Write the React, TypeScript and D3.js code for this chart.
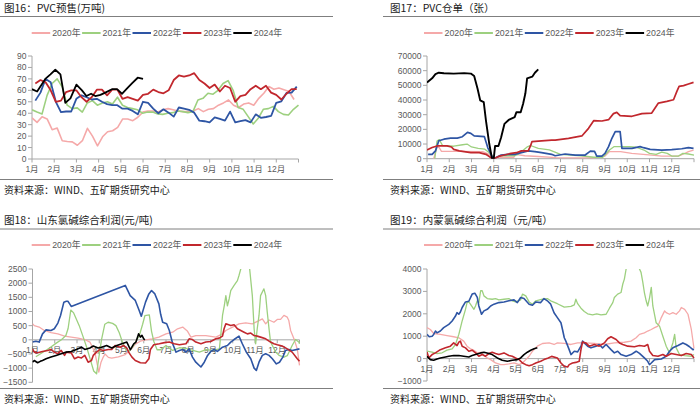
import React from 'react';
import * as d3 from 'd3';

type Pt = [number, number];

const YEARS = ['2020年', '2021年', '2022年', '2023年', '2024年'];
const COLORS = ['#F5A9A9', '#9DD07F', '#2E55A4', '#C1272D', '#000000'];
const MONTHS = ['1月', '2月', '3月', '4月', '5月', '6月', '7月', '8月', '9月', '10月', '11月', '12月'];
const SOURCE = '资料来源：WIND、五矿期货研究中心';

// ---------- 图16 PVC预售 (weekly, 万吨) ----------
const presale2020 = [36, 32, 37, 35, 25.6, 27, 16, 15.3, 15, 12, 16, 26.8, 20, 11.5, 19.4, 23.8, 24.7, 27.6, 35, 35, 33.5, 36.5, 41, 42, 42, 41, 43, 44, 43, 42, 41.4, 41.4, 42, 44, 41.4, 43.4, 44, 47, 49, 51.6, 47, 45, 48, 49, 47, 53, 57.4, 63.3, 61, 62, 60.5, 59, 52];
const presale2020Span: Pt = [0, 11.8];
const presale2021 = [43, 41, 39.4, 55.6, 66, 70, 63, 47, 44, 44.7, 41, 49, 51, 47, 49, 50, 48, 54, 47, 45, 44, 43, 40, 41, 41, 39.4, 39, 40, 40.5, 42, 41.4, 40.5, 41.4, 51.6, 53, 57.4, 56.6, 60, 66, 68.5, 60, 45, 43.4, 37, 30.6, 35.6, 43.4, 44, 46, 41.4, 39, 38.5, 43.4, 47];
const presale2021Span: Pt = [0, 12];
const presale2022 = [51, 58, 70, 67, 50, 41, 41.5, 41.5, 52.6, 55.6, 54, 52, 52.6, 50, 48, 47, 47, 44, 44, 42, 39, 50, 49, 44, 40, 43.4, 40.5, 37, 45, 44, 43, 40.5, 33.5, 33, 32, 36.4, 35, 33.5, 41.4, 32, 33, 34, 32, 39, 36, 36.7, 37.6, 49, 50.4, 57.7, 58, 63.3];
const presale2022Span: Pt = [0.15, 11.92];
const presale2023 = [66, 69, 67, 60, 50, 51, 58.5, 60, 60, 54, 50, 54, 60.6, 60.6, 55.6, 60.6, 60.6, 52.6, 54, 52.6, 51, 56, 57, 60.6, 58.5, 57.4, 60, 69, 73, 72, 73, 75, 69, 66, 62, 65, 59, 64, 62, 50, 55, 56, 61, 64, 61, 64, 58, 56, 52, 57, 61, 61];
const presale2023Span: Pt = [0.15, 11.92];
const presale2024: Pt[] = [[0, 61], [0.23, 59], [0.6, 70], [0.83, 74], [1.05, 78], [1.28, 74], [1.5, 49], [1.73, 53], [2.0, 65], [2.25, 60], [2.45, 55], [2.66, 57], [2.85, 55], [3.08, 56], [3.3, 58], [3.6, 61], [3.83, 61], [4.05, 57], [4.25, 61], [4.5, 66], [4.76, 71], [5.0, 70]];

// ---------- 图17 PVC仓单 (张) ----------
const warrant2020: Pt[] = [[0.3, 0], [0.45, 8000], [0.55, 7500], [0.65, 5000], [1.5, 5000], [2.5, 4800], [2.8, 3000], [3.0, 0], [3.3, 1000], [3.9, 1000], [4.0, 3000], [4.4, 2000], [5.0, 1500], [5.8, 800], [6.5, 500], [7.5, 500], [8.0, 1800], [8.2, 4800], [8.7, 4800], [9.2, 3600], [10.1, 2500], [10.55, 1800], [11.3, 1800], [11.53, 3200], [11.75, 4800], [11.98, 5900]];
const warrant2021: Pt[] = [[0.35, 0], [0.45, 12000], [0.55, 13000], [0.7, 9000], [1.2, 8500], [1.6, 9500], [1.8, 10000], [2.0, 8000], [2.3, 7000], [2.6, 6500], [2.8, 4000], [3.0, 0], [3.3, 2000], [3.9, 2000], [4.1, 3000], [4.5, 8000], [4.65, 9000], [5.0, 7000], [5.5, 6000], [6.0, 3000], [6.9, 2000], [7.5, 1000], [7.9, 1000], [8.2, 5900], [8.4, 8200], [9.1, 8200], [9.4, 7800], [9.75, 5900], [10.0, 3600], [10.3, 3000], [10.55, 4500], [10.8, 3600], [11.0, 1800], [11.3, 1800], [11.5, 3600], [11.75, 3200], [12, 2500]];
const warrant2022: Pt[] = [[0.05, 3000], [0.23, 3000], [0.38, 5300], [0.53, 12200], [0.76, 13300], [1.06, 14000], [1.36, 14000], [1.59, 15000], [1.82, 17900], [1.97, 17300], [2.12, 15600], [2.58, 15000], [2.73, 7600], [2.95, 700], [3.0, 0], [3.33, 2500], [3.64, 3000], [3.94, 3000], [4.24, 4100], [4.55, 5300], [4.85, 4800], [5.15, 4100], [5.6, 3000], [5.76, 2000], [6.21, 3200], [6.66, 2500], [7.11, 2500], [7.34, 5200], [7.53, 5000], [7.63, 1800], [7.86, 1800], [8.0, 3600], [8.16, 8200], [8.31, 13900], [8.46, 18400], [8.68, 18400], [8.76, 7000], [9.21, 7000], [9.58, 8200], [9.73, 7500], [10.03, 6400], [10.55, 5900], [11.0, 6200], [11.45, 6800], [11.75, 7500], [11.98, 7000]];
const warrant2023: Pt[] = [[0, 6000], [0.23, 7600], [0.45, 8700], [0.9, 8700], [1.1, 8000], [1.2, 6400], [1.45, 5300], [1.67, 4800], [1.97, 4100], [2.35, 4100], [2.65, 3000], [2.88, 700], [3.0, 0], [3.26, 1800], [3.48, 2500], [3.71, 3400], [4.02, 4100], [4.24, 5300], [4.55, 5300], [4.65, 8700], [4.72, 11700], [5.15, 12200], [5.6, 12600], [5.76, 12700], [6.36, 13900], [6.96, 15500], [7.26, 20700], [7.49, 25900], [7.86, 25700], [8.16, 26600], [8.38, 30700], [8.53, 31600], [8.68, 29300], [9.21, 28900], [9.66, 30700], [10.1, 31100], [10.25, 34500], [10.4, 37900], [10.78, 39100], [11.08, 40200], [11.23, 45900], [11.33, 49300], [11.53, 49800], [11.75, 50900], [11.98, 52000]];
const warrant2024: Pt[] = [[0, 52000], [0.23, 54800], [0.38, 57700], [0.53, 58600], [0.76, 58200], [1.2, 58000], [1.67, 58300], [1.97, 58000], [2.12, 56300], [2.27, 47800], [2.39, 39800], [2.55, 38600], [2.65, 26000], [2.8, 10000], [2.92, 200], [3.0, 0], [3.06, 8700], [3.21, 8700], [3.33, 14500], [3.48, 23700], [3.67, 26400], [3.94, 28300], [4.02, 31700], [4.21, 31700], [4.32, 37500], [4.42, 44400], [4.5, 54700], [4.73, 55900], [4.85, 58600], [5.0, 60900]];

// ---------- 图18 山东氯碱综合利润 (元/吨) ----------
const sdProfit2020: Pt[] = [[0, 565], [0.08, 500], [0.3, 450], [0.53, 330], [0.83, 250], [1.14, 210], [1.44, 130], [1.74, 95], [2.05, 60], [2.35, 10], [2.58, -80], [2.73, -320], [2.83, -550], [2.92, -900], [2.98, -1140], [3.08, -790], [3.18, -610], [3.26, -500], [3.41, -620], [3.56, -650], [3.86, -600], [4.17, -520], [4.47, -300], [4.62, -150], [4.85, -50], [5.08, 0], [5.38, 35], [5.68, 95], [6.0, 210], [6.3, 270], [6.52, 390], [6.75, 450], [6.97, 300], [7.12, 95], [7.34, 150], [7.79, 150], [8.24, 95], [8.54, 210], [8.69, 330], [8.99, 450], [9.28, 565], [9.58, 600], [9.88, 565], [10.18, 680], [10.33, 740], [10.48, 565], [10.63, 700], [10.85, 620], [11.0, 720], [11.15, 720], [11.3, 860], [11.45, 800], [11.52, 680], [11.6, 330], [11.75, 35], [11.9, -320], [12.0, -900]];
const sdProfit2021: Pt[] = [[0.15, -600], [0.45, -450], [0.75, -300], [1.1, -100], [1.3, 0], [1.5, 150], [1.6, 400], [1.72, 1050], [1.85, 950], [2.1, 500], [2.3, 50], [2.45, -300], [2.6, -700], [2.75, -1100], [2.88, -1200], [2.95, -800], [3.1, 0], [3.25, 550], [3.4, 620], [3.6, 580], [3.75, 500], [3.9, 250], [4.05, -100], [4.2, -350], [4.35, -400], [4.5, -250], [4.65, -50], [4.8, 150], [4.95, 550], [5.05, 850], [5.25, 880], [5.35, 300], [5.45, -50], [5.6, -350], [5.75, -350], [6.0, -200], [6.3, -375], [6.6, -280], [6.9, -300], [7.2, -375], [7.5, -435], [7.8, -350], [8.1, -375], [8.4, -320], [8.46, 150], [8.54, 860], [8.62, 1210], [8.69, 1560], [8.76, 1200], [8.84, 1450], [8.91, 1740], [9.06, 1920], [9.21, 2090], [9.28, 2270], [9.36, 2500], [9.5, 3100], [9.65, 3000], [9.76, 2500], [9.88, 1560], [9.96, 390], [10.03, -140], [10.1, 390], [10.18, 860], [10.25, 1560], [10.4, 1800], [10.48, 1560], [10.55, 980], [10.63, 390], [10.7, -80], [10.78, -200], [10.93, -435], [11.08, -550], [11.3, -610], [11.45, -560], [11.67, -200], [11.82, 10], [11.97, -80], [12.0, -140]];
const sdProfit2022: Pt[] = [[0.0, -80], [0.15, -50], [0.3, -80], [0.45, 210], [0.61, 350], [0.83, 330], [0.98, 390], [1.14, 590], [1.26, 860], [1.41, 1330], [1.52, 1360], [1.59, 1360], [1.67, 1270], [1.74, 1180], [4.17, 1920], [4.39, 1560], [4.62, 1390], [4.77, 1090], [4.89, 835], [5.08, 1330], [5.23, 1620], [5.35, 1740], [5.5, 1620], [5.68, 1270], [5.76, 900], [5.85, 620], [6.03, 565], [6.15, 330], [6.3, -140], [6.45, -435], [6.6, -375], [6.75, -340], [6.9, -435], [7.04, -320], [7.19, -610], [7.34, -790], [7.57, -960], [7.72, -790], [7.87, -550], [8.01, -410], [8.16, -340], [8.31, -410], [8.54, -260], [8.76, -200], [8.91, -80], [9.06, 10], [9.28, 130], [9.43, -140], [9.61, -435], [9.81, -670], [9.96, -1000], [10.06, -1080], [10.18, -790], [10.33, -550], [10.48, -490], [10.63, -550], [10.78, -670], [10.96, -850], [11.1, -790], [11.25, -610], [11.37, -375], [11.52, -340], [11.67, -375], [12.0, -320]];
const sdProfit2023: Pt[] = [[0, -320], [0.08, -435], [0.23, -460], [0.45, -410], [0.68, -375], [0.83, -340], [0.98, -435], [1.14, -490], [1.29, -375], [1.44, -550], [1.52, -435], [1.74, -460], [1.89, -670], [2.05, -610], [2.2, -640], [2.35, -550], [2.5, -790], [2.65, -730], [2.73, -550], [2.88, -435], [3.03, -340], [3.18, -375], [3.41, -340], [3.56, -340], [3.71, -200], [3.94, -260], [4.09, -200], [4.24, -290], [4.32, -435], [4.47, -610], [4.62, -730], [4.85, -810], [5.08, -820], [5.23, -670], [5.3, -340], [5.45, -175], [5.7, -140], [5.93, -100], [6.15, -80], [6.37, -140], [6.6, -175], [6.9, -140], [7.04, 35], [7.19, 10], [7.34, -80], [7.57, -140], [7.79, -80], [8.01, -60], [8.24, 35], [8.39, 60], [8.54, 130], [8.61, 390], [8.69, 565], [8.91, 505], [9.06, 530], [9.21, 390], [9.36, 330], [9.51, 270], [9.66, 210], [9.81, 240], [9.96, 150], [10.1, 130], [10.25, 95], [10.48, 35], [10.7, -80], [10.85, -140], [11.0, -175], [11.22, -220], [11.45, -320], [11.67, -435], [11.9, -670], [12.0, -760]];
const sdProfit2024: Pt[] = [[0, -790], [0.08, -730], [0.23, -810], [0.35, -760], [0.45, -730], [0.61, -670], [0.83, -610], [1.06, -550], [1.29, -490], [1.52, -435], [1.74, -410], [1.97, -340], [2.2, -260], [2.35, -340], [2.58, -290], [2.73, -220], [2.95, -290], [3.11, -260], [3.33, -200], [3.56, -290], [3.79, -200], [4.02, -140], [4.24, -80], [4.4, -350], [4.55, -140], [4.65, -80], [4.77, 210], [4.85, 95], [4.92, 160], [5.0, 30], [5.05, 0]];

// ---------- 图19 内蒙氯碱综合利润 (元/吨) ----------
const nmProfit2020: Pt[] = [[0, 1380], [0.15, 1300], [0.3, 1120], [0.6, 1080], [0.9, 1030], [1.2, 975], [1.43, 930], [1.65, 780], [1.8, 555], [1.95, 435], [2.1, 375], [2.26, 255], [2.41, 280], [2.56, 135], [2.71, 30], [2.86, -45], [3.08, -195], [3.31, -270], [3.46, -270], [3.68, -240], [3.91, -195], [4.14, -270], [4.29, -195], [4.44, -45], [4.59, 105], [4.74, 330], [4.96, 555], [5.19, 675], [5.49, 700], [5.71, 630], [5.86, 700], [6.17, 680], [6.47, 630], [6.77, 700], [7.07, 700], [7.52, 680], [7.97, 630], [8.42, 700], [8.87, 730], [9.17, 780], [9.4, 930], [9.55, 1080], [9.77, 1150], [9.92, 1230], [10.08, 1300], [10.23, 1380], [10.38, 1450], [10.53, 1830], [10.68, 2130], [10.75, 2050], [10.9, 1980], [11.05, 2050], [11.2, 1980], [11.35, 2130], [11.43, 2280], [11.58, 2200], [11.73, 1980], [11.88, 1300], [12.0, 450]];
const nmProfit2021: Pt[] = [[0, 330], [0.23, 290], [0.45, 225], [0.68, 260], [0.9, 375], [1.13, 435], [1.28, 630], [1.43, 1080], [1.58, 1680], [1.73, 2200], [1.8, 2500], [1.88, 2530], [1.95, 2430], [2.11, 2200], [2.18, 2350], [2.26, 2580], [2.33, 2500], [2.41, 3030], [2.48, 3030], [2.56, 2800], [2.71, 2680], [2.93, 2650], [3.08, 2680], [3.23, 2620], [3.46, 2650], [3.68, 2680], [3.83, 2580], [3.98, 2530], [4.21, 2620], [4.29, 2880], [4.44, 2800], [4.59, 2530], [4.74, 2430], [4.89, 2580], [5.19, 2650], [5.41, 2680], [5.56, 2580], [5.86, 2450], [6.17, 2300], [6.47, 2330], [6.62, 2400], [6.69, 2650], [6.77, 2450], [6.92, 2250], [7.07, 2100], [7.22, 2000], [7.44, 1950], [7.63, 2000], [7.82, 1950], [8.05, 1980], [8.2, 2250], [8.35, 2500], [8.42, 2730], [8.57, 2880], [8.72, 2950], [8.8, 3330], [8.87, 3550], [8.95, 4000], [9.2, 4600], [9.45, 4300], [9.55, 4000], [9.62, 3850], [9.7, 3400], [9.77, 2950], [9.85, 2580], [9.92, 2350], [10.0, 2700], [10.08, 3180], [10.15, 2350], [10.3, 1600], [10.45, 1450], [10.6, 1000], [10.75, 555], [10.9, 255], [11.05, 700], [11.13, 1080], [11.2, 480], [11.35, 180], [11.58, 135], [11.88, 105], [12.0, 180]];
const nmProfit2022: Pt[] = [[0, 1080], [0.1, 975], [0.23, 1000], [0.3, 1080], [0.38, 1230], [0.45, 1150], [0.6, 1230], [0.75, 1380], [0.98, 1530], [1.13, 1680], [1.28, 1900], [1.35, 2050], [1.43, 1980], [1.5, 2080], [1.58, 2280], [1.73, 2530], [1.88, 2560], [2.03, 2880], [2.15, 2920], [2.26, 2730], [2.33, 2350], [2.45, 1980], [2.56, 2130], [2.71, 2200], [2.86, 2350], [3.01, 2430], [3.23, 2500], [3.46, 2530], [3.68, 2580], [3.91, 2620], [4.06, 2500], [4.21, 2730], [4.36, 2680], [4.59, 2430], [4.74, 2380], [4.89, 2530], [5.11, 2500], [5.26, 2680], [5.41, 2580], [5.56, 2430], [5.71, 2050], [5.86, 1830], [6.02, 1600], [6.09, 1300], [6.17, 930], [6.24, 780], [6.39, 400], [6.47, 180], [6.62, 330], [6.77, 300], [6.92, 555], [6.99, 780], [7.07, 700], [7.22, 555], [7.37, 480], [7.59, 555], [7.74, 630], [7.89, 480], [8.05, 630], [8.27, 400], [8.42, 255], [8.57, 330], [8.72, 180], [8.95, 105], [9.17, 180], [9.4, 330], [9.55, 230], [9.77, 30], [9.92, -120], [10.0, -270], [10.08, -195], [10.23, -45], [10.53, -15], [10.75, 105], [10.9, 330], [11.05, 480], [11.28, 585], [11.5, 700], [11.65, 630], [11.8, 530], [11.95, 400], [12.0, 420]];
const nmProfit2023: Pt[] = [[0, 300], [0.08, 30], [0.23, 180], [0.38, 255], [0.6, 400], [0.83, 480], [1.05, 555], [1.2, 700], [1.35, 580], [1.43, 735], [1.5, 780], [1.58, 555], [1.73, 480], [1.88, 330], [2.03, 375], [2.18, 255], [2.33, 105], [2.48, 180], [2.63, 105], [2.78, 225], [2.93, 285], [3.08, 225], [3.23, 180], [3.46, 255], [3.68, 135], [3.83, 105], [3.98, 30], [4.14, -45], [4.29, -195], [4.44, -270], [4.59, -320], [4.74, -270], [4.89, -195], [5.11, -120], [5.26, -45], [5.45, 30], [5.6, 100], [5.86, 30], [6.02, -195], [6.17, -345], [6.32, -375], [6.39, -270], [6.54, -195], [6.69, -170], [6.84, -120], [6.92, 400], [6.99, 735], [7.14, 700], [7.29, 555], [7.52, 630], [7.74, 555], [7.97, 700], [8.12, 885], [8.27, 975], [8.5, 855], [8.65, 700], [8.8, 630], [9.02, 555], [9.32, 530], [9.55, 585], [9.77, 555], [9.92, 630], [10.0, 330], [10.15, 135], [10.38, 105], [10.6, 180], [10.75, 105], [10.98, 225], [11.2, 180], [11.43, 135], [11.65, 225], [11.88, 180], [12.0, 30]];
const nmProfit2024: Pt[] = [[0, 105], [0.15, -45], [0.3, -75], [0.45, -20], [0.6, 30], [0.83, 75], [0.98, 105], [1.2, 135], [1.43, 135], [1.65, 105], [1.88, 75], [2.03, 135], [2.18, 180], [2.41, 255], [2.56, 285], [2.78, 225], [2.93, 180], [3.16, 30], [3.38, -75], [3.61, -120], [3.83, -75], [4.06, -45], [4.21, 30], [4.36, 180], [4.51, 285], [4.66, 375], [4.81, 435], [4.96, 480]];

// weekly values spread evenly over their date span (month units)
function spread(values: number[], span: Pt): Pt[] {
  return values.map((v, i) => [span[0] + ((span[1] - span[0]) * i) / (values.length - 1), v] as Pt);
}

interface PanelCfg {
  id: string;
  title: string;
  frameX0: number;
  frameX1: number;
  textX: number;
  titleY: number;
  titleLineY: number;
  legendY: number;
  legendX: number;
  bottomLineY: number;
  sourceY: number;
  px0: number;
  px1: number;
  pyTop: number;
  pyBottom: number;
  yMin: number;
  yMax: number;
  yStep: number;
  widths: number[];
  series: Pt[][];
}

const LABEL_FONT = "'Liberation Sans', Arial, 'Noto Sans CJK SC', sans-serif";
const CJK_FONT = "'Noto Sans CJK SC', 'Liberation Sans', sans-serif";

const panels: PanelCfg[] = [
  {
    id: 'p16', title: '图16：PVC预售(万吨)',
    frameX0: 0, frameX1: 333, textX: 4,
    titleY: 11.5, titleLineY: 16.5, legendY: 33, legendX: 31.7, bottomLineY: 179.5, sourceY: 194,
    px0: 32, px1: 298.5, pyTop: 56, pyBottom: 159,
    yMin: 0, yMax: 90, yStep: 10,
    widths: [1.6, 1.6, 1.8, 1.8, 1.8],
    series: [spread(presale2020, presale2020Span), spread(presale2021, presale2021Span), spread(presale2022, presale2022Span), spread(presale2023, presale2023Span), presale2024],
  },
  {
    id: 'p17', title: '图17：PVC仓单（张）',
    frameX0: 383, frameX1: 700, textX: 390,
    titleY: 11.5, titleLineY: 16.5, legendY: 33, legendX: 424, bottomLineY: 179.5, sourceY: 194,
    px0: 427, px1: 694, pyTop: 56, pyBottom: 158.7,
    yMin: 0, yMax: 70000, yStep: 10000,
    widths: [1.3, 1.3, 1.7, 1.7, 1.9],
    series: [warrant2020, warrant2021, warrant2022, warrant2023, warrant2024],
  },
  {
    id: 'p18', title: '图18：山东氯碱综合利润(元/吨)',
    frameX0: 0, frameX1: 333, textX: 4,
    titleY: 223.5, titleLineY: 229, legendY: 245, legendX: 31.7, bottomLineY: 388.5, sourceY: 402.5,
    px0: 32.5, px1: 299.5, pyTop: 269, pyBottom: 382.3,
    yMin: -1500, yMax: 2500, yStep: 500,
    widths: [1.3, 1.3, 1.6, 1.6, 1.6],
    series: [sdProfit2020, sdProfit2021, sdProfit2022, sdProfit2023, sdProfit2024],
  },
  {
    id: 'p19', title: '图19：内蒙氯碱综合利润（元/吨）',
    frameX0: 383, frameX1: 700, textX: 390,
    titleY: 223.5, titleLineY: 229, legendY: 245, legendX: 424, bottomLineY: 388.5, sourceY: 402.5,
    px0: 427, px1: 694, pyTop: 269, pyBottom: 381,
    yMin: -1000, yMax: 4000, yStep: 1000,
    widths: [1.3, 1.3, 1.6, 1.6, 1.6],
    series: [nmProfit2020, nmProfit2021, nmProfit2022, nmProfit2023, nmProfit2024],
  },
];

function Panel({ cfg }: { cfg: PanelCfg }) {
  const x = d3.scaleLinear().domain([0, 12]).range([cfg.px0, cfg.px1]);
  const y = d3.scaleLinear().domain([cfg.yMin, cfg.yMax]).range([cfg.pyBottom, cfg.pyTop]);
  const line = d3.line<Pt>().x((d) => x(d[0])).y((d) => y(d[1]));
  const yTicks = d3.range(cfg.yMin, cfg.yMax + cfg.yStep / 2, cfg.yStep);
  const axisY = y(Math.max(0, cfg.yMin));
  const fmt = (v: number) => (v < 0 ? '\u2212' + Math.abs(v) : String(v));
  const monthTicks = d3.range(0, 13);
  const axisColor = '#A6A6A6';
  const labelColor = '#595959';

  return (
    <g>
      <defs>
        <clipPath id={`clip-${cfg.id}`}>
          <rect x={cfg.px0} y={cfg.pyTop} width={cfg.px1 - cfg.px0 + 2} height={cfg.pyBottom - cfg.pyTop} />
        </clipPath>
      </defs>
      {/* title */}
      <text x={cfg.textX} y={cfg.titleY} fontFamily={CJK_FONT} fontSize={10.5} fontWeight={400} fill="#1a1a1a">
        {cfg.title}
      </text>
      <line x1={cfg.frameX0} x2={cfg.frameX1} y1={cfg.titleLineY} y2={cfg.titleLineY} stroke="#7f7f7f" strokeWidth={1} />
      {/* legend */}
      {YEARS.map((yr, i) => {
        const lx = cfg.legendX + i * 50.4;
        return (
          <g key={yr}>
            <line x1={lx} x2={lx + 18.5} y1={cfg.legendY} y2={cfg.legendY} stroke={COLORS[i]} strokeWidth={2} />
            <text x={lx + 20.5} y={cfg.legendY + 3.2} fontFamily={LABEL_FONT} fontSize={8.8} fill={labelColor}>
              {yr}
            </text>
          </g>
        );
      })}
      {/* y axis */}
      <line x1={cfg.px0} x2={cfg.px0} y1={cfg.pyTop} y2={cfg.pyBottom} stroke={axisColor} strokeWidth={1} />
      {yTicks.map((t) => (
        <g key={t}>
          <line x1={cfg.px0 - 4} x2={cfg.px0} y1={y(t)} y2={y(t)} stroke={axisColor} strokeWidth={1} />
          <text x={cfg.px0 - 5.5} y={y(t) + 3} textAnchor="end" fontFamily={LABEL_FONT} fontSize={8.5} fill={labelColor}>
            {fmt(t)}
          </text>
        </g>
      ))}
      {/* x axis */}
      <line x1={cfg.px0} x2={cfg.px1} y1={axisY} y2={axisY} stroke={axisColor} strokeWidth={1} />
      {monthTicks.map((m) => (
        <line key={m} x1={x(m)} x2={x(m)} y1={axisY} y2={axisY + 3.5} stroke={axisColor} strokeWidth={1} />
      ))}
      {MONTHS.map((lab, i) => (
        <text key={lab} x={x(i)} y={axisY + 13.3} textAnchor="middle" fontFamily={LABEL_FONT} fontSize={8.5} fill={labelColor}>
          {lab}
        </text>
      ))}
      {/* series */}
      <g clipPath={`url(#clip-${cfg.id})`}>
        {cfg.series.map((s, i) => (
          <path key={i} d={line(s) || ''} fill="none" stroke={COLORS[i]} strokeWidth={cfg.widths[i]} strokeLinejoin="round" />
        ))}
      </g>
      {/* bottom line + source */}
      <line x1={cfg.frameX0} x2={cfg.frameX1} y1={cfg.bottomLineY} y2={cfg.bottomLineY} stroke="#7f7f7f" strokeWidth={1} />
      <text x={cfg.textX} y={cfg.sourceY} fontFamily={CJK_FONT} fontSize={10} fill="#1a1a1a">
        {SOURCE}
      </text>
    </g>
  );
}

export default function App() {
  return (
    <svg
      width={700}
      height={406}
      viewBox="0 0 700 406"
      style={{ position: 'absolute', left: 0, top: 0, background: '#fff', display: 'block' }}
    >
      <rect x={0} y={0} width={700} height={406} fill="#fff" />
      {panels.map((p) => (
        <Panel key={p.id} cfg={p} />
      ))}
    </svg>
  );
}
